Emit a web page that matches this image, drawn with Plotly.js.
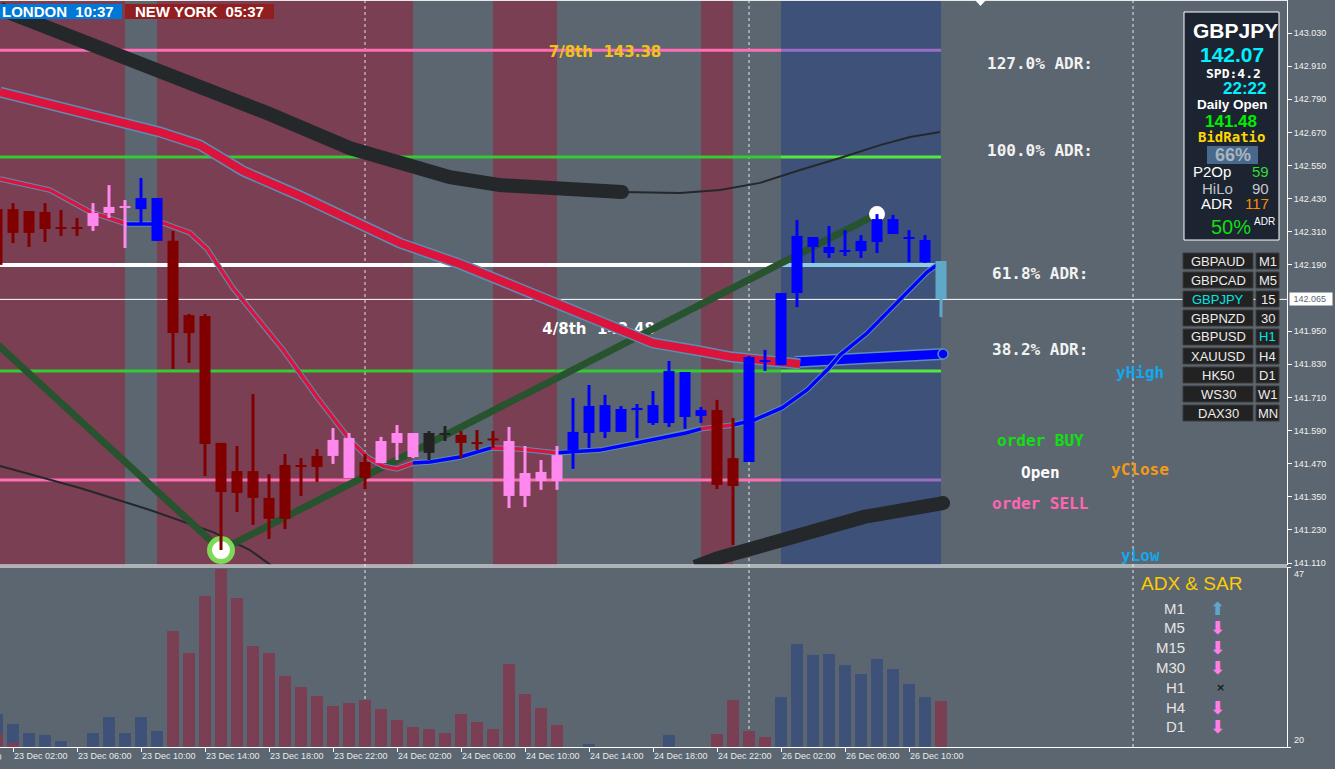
<!DOCTYPE html>
<html><head><meta charset="utf-8">
<script src="https://cdn.plot.ly/plotly-3.0.1.min.js"></script>
<style>html,body{margin:0;padding:0;background:#5c6670;overflow:hidden}#chart{width:1335px;height:769px}</style>
</head><body><div id="chart"></div>
<script>
// ================= DATA =================
// H1 bars, index 0 = 23 Dec 02:00
const barIndex = [-1,0,1,2,3,4,5,6,7,8,9,10,11,12,13,14,15,16,17,18,19,20,21,22,23,24,25,26,27,28,29,30,31,32,33,34,35,36,37,38,39,40,41,42,43,44,45,46,47,48,49,50,51,52,53,54,55,56,57,58];
const openP  = [142.392,142.392,142.385,142.382,142.327,142.327,142.331,142.378,142.396,142.392,142.277,142.277,142.008,142.005,141.545,141.443,141.443,141.346,141.465,141.465,141.498,141.498,141.418,141.476,141.472,141.545,141.494,141.581,141.581,141.574,141.548,141.559,141.353,141.353,141.407,141.407,141.519,141.581,141.585,141.585,141.664,141.617,141.617,141.639,141.643,141.664,141.490,141.476,141.838,141.827,142.088,142.255,142.233,142.237,142.240,142.273,142.302,142.284,142.200,142.204];
const highP  = [142.407,142.414,142.385,142.414,142.389,142.360,142.414,142.479,142.425,142.505,142.432,142.313,142.012,142.012,141.545,141.534,141.722,141.432,141.505,141.490,141.523,141.599,141.581,141.505,141.567,141.610,141.581,141.588,141.606,141.588,141.592,141.588,141.603,141.534,141.483,141.534,141.708,141.755,141.719,141.679,141.686,141.733,141.842,141.802,141.675,141.701,141.635,141.860,141.882,142.088,142.353,142.291,142.331,142.316,142.298,142.374,142.371,142.316,142.298,142.204];
const lowP   = [142.179,142.269,142.255,142.273,142.295,142.295,142.313,142.360,142.251,142.342,142.277,141.813,141.835,141.425,141.157,141.295,141.248,141.197,141.233,141.353,141.404,141.469,141.418,141.378,141.472,141.483,141.490,141.483,141.552,141.490,141.519,141.527,141.309,141.313,141.375,141.375,141.451,141.527,141.563,141.585,141.563,141.610,141.603,141.596,141.617,141.378,141.175,141.476,141.806,141.827,142.037,142.197,142.215,142.222,142.215,142.233,142.302,142.200,142.197,142.001];
const closeP = [142.190,142.306,142.306,142.320,142.320,142.320,142.378,142.400,142.403,142.432,142.432,141.943,141.943,141.541,141.367,141.364,141.346,141.270,141.270,141.458,141.458,141.556,141.563,141.418,141.552,141.581,141.581,141.509,141.574,141.545,141.541,141.556,141.552,141.436,141.440,141.501,141.585,141.679,141.682,141.668,141.672,141.682,141.806,141.802,141.664,141.393,141.389,141.856,141.845,142.088,142.295,142.291,142.255,142.244,142.277,142.356,142.356,142.291,142.280,142.066];
const candleKind = ['dr','dr','dr','dr','dr','dr','pk','pk','pk','bl','bl','dr','dr','dr','dr','dr','dr','dr','dr','dr','dr','pk','pk','dr','pk','pk','pk','bk','bk','dr','dr','dr','pk','pk','pk','pk','bl','bl','bl','bl','bl','bl','bl','bl','bl','dr','dr','bl','bl','bl','bl','bl','bl','bl','bl','bl','bl','bl','bl','lb'];

// x-axis labels
const xTickIdx = [0,4,8,12,16,20,24,28,32,36,40,44,48,52,56];
const xTickLabels = ['23 Dec 02:00','23 Dec 06:00','23 Dec 10:00','23 Dec 14:00','23 Dec 18:00','23 Dec 22:00','24 Dec 02:00','24 Dec 06:00','24 Dec 10:00','24 Dec 14:00','24 Dec 18:00','24 Dec 22:00','26 Dec 02:00','26 Dec 06:00','26 Dec 10:00'];
// price axis labels
const yTickVals = [143.030,142.910,142.790,142.670,142.550,142.430,142.310,142.190,141.950,141.830,141.710,141.590,141.470,141.350,141.230,141.110];
const currentPrice = 142.065;

// horizontal levels
const levelPrice = [142.968, 142.581, 142.190, 141.806, 141.411];

// session bands (bar index)
const sessionStart = [-0.8125, 9, 30, 43];
const sessionEnd   = [7, 25, 34, 45];
const todayStart = 48, todayEnd = 58;
const daySeparator = [22, 46, 70];

// indicator lines
const thickBlackTopX = [-0.81,7.0,15.88,21.06,24.19,27.31,30.44,33.56,36.69,38.06];
const thickBlackTopY = [143.117,142.943,142.740,142.613,142.555,142.508,142.479,142.465,142.458,142.454];
const thinBlackTopX = [38.06,41.69,44.19,46.69,49.19,51.69,54.19,56.06,57.94];
const thinBlackTopY = [142.454,142.450,142.461,142.487,142.534,142.577,142.624,142.653,142.671];
const thickBlackBotX = [42.63,44.06,48.75,53.19,58.13];
const thickBlackBotY = [141.096,141.128,141.204,141.277,141.327];
const thinBlackBotX = [-0.81,4.19,8.56,12.5,14.81,16.19];
const thinBlackBotY = [141.462,141.382,141.302,141.222,141.157,141.099];

const slowMaX = [-0.81,2.31,5.63,9.19,11.69,14.38,17.94,21.06,24.19,27.94,31.69,35.44,40.0,42.94,44.94,49.19];
const slowMaY = [142.816,142.773,142.722,142.671,142.624,142.530,142.440,142.353,142.269,142.193,142.103,142.016,141.907,141.878,141.856,141.831];
const slowMaUpX = [48.88,53.56,58.13];
const slowMaUpY = [141.838,141.853,141.867];

const fastMaX = [-0.81,2.31,4.81,7.13,8.75,9.38,11.06,12.13,13.75,15.0,16.88,19.0,21.06,22.13,23.13,24.0,25.0,26.06,27.94,29.88,31.69,34.0,36.69,38.94,42.06,43.0,45.0,46.31,48.06,49.63,51.0,51.69,53.38,54.81,56.25,57.13,57.94];
const fastMaY = [142.501,142.461,142.382,142.338,142.338,142.342,142.306,142.248,142.106,142.016,141.882,141.711,141.556,141.494,141.461,141.451,141.472,141.476,141.494,141.527,141.523,141.509,141.519,141.545,141.581,141.596,141.610,141.628,141.672,141.737,141.816,141.864,141.943,142.027,142.110,142.164,142.197];
const fastMaBreaks = [-1, 7.13, 8.75, 25, 29.88, 34, 43, 45, 60];
const fastMaTrend  = ['dn','up','dn','up','dn','up','dn','up'];

const zigzagX = [-1, 13, 54];
const zigzagY = [141.903, 141.157, 142.374];

// ADX histogram
const adxUp = [24.95,23.45,22.1,21.8,20.9,null,22.1,24.5,22.1,24.5,22.4,null,null,null,null,null,null,null,null,null,null,null,null,null,null,null,null,null,null,null,null,null,null,null,null,null,null,20.45,null,null,null,null,21.8,null,null,null,null,null,null,27.5,35.45,33.8,33.95,32.3,30.95,33.2,31.7,29.45,27.5,null];
const adxDn = [21.95,20.6,null,null,null,null,null,null,null,null,null,37.4,34.1,42.65,46.7,42.35,35.15,34.1,30.65,29.0,27.65,26.15,26.6,27.05,25.7,24.05,23.0,22.7,22.1,24.95,23.75,22.7,32.45,27.95,25.85,23.3,null,null,null,null,null,null,null,null,null,21.95,27.05,22.4,21.5,null,null,null,null,null,null,null,null,null,null,26.9];

// side panels
const symbols = ['GBPAUD','GBPCAD','GBPJPY','GBPNZD','GBPUSD','XAUUSD','HK50','WS30','DAX30'];
const periods = ['M1','M5','15','30','H1','H4','D1','W1','MN'];
const adxFrames = ['M1','M5','M15','M30','H1','H4','D1'];
const adxSignal = ['up','dn','dn','dn','none','dn','dn'];

// ================= STYLE / LAYOUT =================
const xMin = -0.8125, xMax = 79.625;
const yMin = 141.1028, yMax = 143.1496;
const PW = 1287, PH = 747;
const fx = x => x / PW;
const fy = y => (PH - y) / PH;
const mainBottom = fy(565), adxTop = fy(567);

const SANS = 'Liberation Sans, Arial, sans-serif';
const NARROW = 'Liberation Sans Narrow, Liberation Sans, sans-serif';
const MONO = 'DejaVu Sans Mono, monospace';
const DJV = 'DejaVu Sans, sans-serif';

const COL = {
  bg:'#5c6670', maroon:'#7a3f52', blueBand:'#3e5279',
  dr:'#800000', bl:'#0000ff', pk:'#ff88ee', bk:'#222222', lb:'#5fa8c8',
  red:'#dc143c', blue:'#0000ff', edge:'#5b8db5', black:'#25282b', zz:'#28532f'
};
const levelColorL = ['#ff6eb4','#33cc33','#ffffff','#33cc33','#ff6eb4'];
const levelColorR = ['#9b6cc4','#55e83a','#8ecbea','#55e83a','#9b6cc4'];
const levelWidth = [3,3,4,3,3];

const traces = [];
function line(x, y, color, width) {
  traces.push({type:'scatter', mode:'lines', x:x, y:y, xaxis:'x', yaxis:'y', line:{color:color, width:width}, hoverinfo:'skip'});
}
function cap(x, y, size, color, lc, lw) {
  traces.push({type:'scatter', mode:'markers', x:[x], y:[y], xaxis:'x', yaxis:'y', marker:{size:size, color:color, line:{color:lc||color, width:lw||0}}, hoverinfo:'skip'});
}

// levels
levelPrice.forEach((p,k) => {
  line([xMin, todayStart], [p,p], levelColorL[k], levelWidth[k]);
  line([todayStart, todayEnd], [p,p], levelColorR[k], levelWidth[k]);
});
line([xMin, xMax], [currentPrice, currentPrice], '#ffffff', 1);

// murrey labels (drawn under the averages)
traces.push({type:'scatter', mode:'text', x:[37.0], y:[142.957], text:['<b>7/8th\u00a0\u00a0143.38</b>'], textposition:'middle center', textfont:{family:DJV, size:15, color:'#f2c21a'}, hoverinfo:'skip'});
traces.push({type:'scatter', mode:'text', x:[36.6], y:[141.954], text:['<b>4/8th\u00a0\u00a0142.48</b>'], textposition:'middle center', textfont:{family:DJV, size:15, color:'#ffffff'}, hoverinfo:'skip'});

// black bands
line(thinBlackBotX, thinBlackBotY, COL.black, 2);
line(thinBlackTopX, thinBlackTopY, COL.black, 2);
line(thickBlackTopX, thickBlackTopY, COL.black, 14);
cap(thickBlackTopX[thickBlackTopX.length-1], thickBlackTopY[thickBlackTopY.length-1], 14, COL.black);
line(thickBlackBotX, thickBlackBotY, COL.black, 14);
cap(thickBlackBotX[thickBlackBotX.length-1], thickBlackBotY[thickBlackBotY.length-1], 14, COL.black);

// zigzag
line(zigzagX, zigzagY, COL.zz, 7);

// slow MA
line(slowMaUpX, slowMaUpY, COL.edge, 12);
line(slowMaUpX, slowMaUpY, COL.blue, 9);
cap(slowMaUpX[slowMaUpX.length-1], slowMaUpY[slowMaUpY.length-1], 10, COL.blue, COL.edge, 1.5);
line(slowMaX, slowMaY, COL.edge, 11);
line(slowMaX, slowMaY, COL.red, 8);

// fast MA
line(fastMaX, fastMaY, COL.edge, 5.5);
for (let s = 0; s < fastMaTrend.length; s++) {
  const a = fastMaBreaks[s], b = fastMaBreaks[s+1];
  const xs = [], ys = [];
  fastMaX.forEach((v,k) => { if (v >= a && v <= b) { xs.push(v); ys.push(fastMaY[k]); } });
  line(xs, ys, fastMaTrend[s] === 'up' ? COL.blue : COL.red, 3.5);
}

// zigzag pivots
traces.push({type:'scatter', mode:'markers', x:[zigzagX[1]], y:[zigzagY[1]], xaxis:'x', yaxis:'y', marker:{size:23, color:'#ffffff', line:{color:'#7ed957', width:5}}, hoverinfo:'skip'});
traces.push({type:'scatter', mode:'markers', x:[zigzagX[2]], y:[zigzagY[2]], xaxis:'x', yaxis:'y', marker:{size:16, color:'#ffffff'}, hoverinfo:'skip'});

// candles
const minBody = 0.0072;
['dr','pk','bk','bl','lb'].forEach(kind => {
  const wx = [], wy = [], bx = [], by = [];
  barIndex.forEach((i,k) => {
    if (candleKind[k] !== kind) return;
    wx.push(i, i, null); wy.push(lowP[k], highP[k], null);
    let lo = Math.min(openP[k], closeP[k]), hi = Math.max(openP[k], closeP[k]);
    if (hi - lo < minBody) { const m = (hi + lo) / 2; lo = m - minBody/2; hi = m + minBody/2; }
    bx.push(i, i, null); by.push(lo, hi, null);
  });
  traces.push({type:'scatter', mode:'lines', x:wx, y:wy, xaxis:'x', yaxis:'y', line:{color:COL[kind], width:3}, hoverinfo:'skip', connectgaps:false});
  traces.push({type:'scatter', mode:'lines', x:bx, y:by, xaxis:'x', yaxis:'y', line:{color:COL[kind], width:11}, hoverinfo:'skip', connectgaps:false});
});

// ADX histogram
traces.push({type:'bar', x:barIndex, y:adxUp, xaxis:'x', yaxis:'y2', width:0.8, marker:{color:COL.blueBand, line:{width:0}}, hoverinfo:'skip'});
traces.push({type:'bar', x:barIndex, y:adxDn, xaxis:'x', yaxis:'y2', width:0.8, marker:{color:COL.maroon, line:{width:0}}, hoverinfo:'skip'});

// ================= SHAPES =================
const shapes = [];
sessionStart.forEach((s,k) => shapes.push({type:'rect', xref:'x', yref:'y domain', x0:s, x1:sessionEnd[k], y0:0, y1:1, fillcolor:COL.maroon, line:{width:0}, layer:'below'}));
shapes.push({type:'rect', xref:'x', yref:'y domain', x0:todayStart, x1:todayEnd, y0:0, y1:1, fillcolor:COL.blueBand, line:{width:0}, layer:'below'});
daySeparator.forEach(d => shapes.push({type:'line', xref:'x', yref:'paper', x0:d, x1:d, y0:0, y1:1, line:{color:'rgba(255,255,255,0.85)', width:1, dash:'3px,3px'}, layer:'below'}));
function prect(x0,y0,x1,y1,fill,lc,lw){ shapes.push({type:'rect', xref:'paper', yref:'paper', x0:fx(x0), x1:fx(x1), y0:fy(y1), y1:fy(y0), fillcolor:fill, line:{color:lc||fill, width:lw||0}, layer:'above'}); }
function pline(x0,y0,x1,y1,c){ shapes.push({type:'line', xref:'paper', yref:'paper', x0:fx(x0), x1:fx(x1), y0:fy(y0), y1:fy(y1), line:{color:c, width:1}, layer:'above'}); }
pline(0,0.5,PW,0.5,'#e8e8e8');
pline(0,565,PW,565,'#ffffff');
pline(0,567,PW,567,'#ffffff');
// session clocks
prect(0,4,122,19,'#0078d7');
prect(125,4,274,19,'#911f20');
// info box
prect(1184,12,1279,240,'#1b2430','#ffffff',1);
prect(1207,146,1258,164,'#48688c');
// symbol list
symbols.forEach((s,r) => { const y0 = 253 + 19*r; prect(1183,y0,1253,y0+16,'#222222','#3a3a3a',1); prect(1256,y0,1279,y0+16,'#222222','#3a3a3a',1); });
// shift marker
shapes.push({type:'path', xref:'paper', yref:'paper', path:`M ${fx(975)},${fy(0)} L ${fx(986)},${fy(0)} L ${fx(980.5)},${fy(6)} Z`, fillcolor:'#ffffff', line:{width:0}});

// ================= ANNOTATIONS =================
const ann = [];
function txt(text, x, y, size, color, family, xa) {
  ann.push({xref:'paper', yref:'paper', x:fx(x), y:fy(y), text:text, showarrow:false, xanchor:xa||'center', yanchor:'middle', font:{family:family||SANS, size:size, color:color}});
}
txt('<b>LONDON\u00a0\u00a010:37</b>', 58, 12, 15, '#ffffff');
txt('<b>NEW YORK\u00a0\u00a005:37</b>', 199, 12, 15, '#ffffff');
txt('22 Dec 22:00', 3.5, 757, 9, '#e6e9ec', SANS, 'right');

txt('<b>127.0% ADR:</b>', 1040, 63, 16, '#f2f2f2', MONO);
txt('<b>100.0% ADR:</b>', 1040, 150, 16, '#f2f2f2', MONO);
txt('<b>61.8% ADR:</b>', 1040, 273, 16, '#f2f2f2', MONO);
txt('<b>38.2% ADR:</b>', 1040, 349, 16, '#f2f2f2', MONO);
txt('<b>yHigh</b>', 1140, 372, 16, '#12a8ee', MONO);
txt('<b>yClose</b>', 1140, 469, 16, '#f59a16', MONO);
txt('<b>yLow</b>', 1140, 555, 16, '#12a8ee', MONO);
txt('<b>order BUY</b>', 1040, 440, 16, '#10e010', MONO);
txt('<b>Open</b>', 1040, 472, 16, '#ffffff', MONO);
txt('<b>order SELL</b>', 1040, 504, 16, '#ff66b0', MONO);

// info panel
txt('<b>GBPJPY</b>', 1235, 31, 21, '#ffffff', NARROW);
txt('<b>142.07</b>', 1232, 54, 21, '#00f0ff');
txt('<b>SPD:4.2</b>', 1233, 73, 13, '#ffffff', MONO);
txt('<b>22:22</b>', 1244, 88, 17, '#00f0ff');
txt('<b>Daily Open</b>', 1232, 105, 13.5, '#ffffff');
txt('<b>141.48</b>', 1231, 121, 17, '#00ee00');
txt('<b>BidRatio</b>', 1231, 137, 14, '#ffd700', MONO);
txt('<b>66%</b>', 1232.5, 155, 18, '#aab4be');
txt('P2Op', 1211.5, 172, 15, '#ffffff', NARROW);
txt('59', 1260, 172, 15, '#30dc30', NARROW);
txt('HiLo', 1217, 188, 15, '#c0c4c8', NARROW);
txt('90', 1260, 188, 15, '#c8c8c8', NARROW);
txt('ADR', 1216.5, 204, 15, '#ffffff', NARROW);
txt('117', 1256.5, 204, 15, '#ff8c00', NARROW);
txt('50%', 1231, 227, 20, '#14dc14');
txt('ADR', 1264, 221, 10, '#ffffff');

// symbol list
symbols.forEach((s,r) => {
  const y = 261 + 19*r;
  txt(s, 1218, y, 13, s === 'GBPJPY' ? '#00e6e6' : '#ececec');
  txt(periods[r], 1267.5, y, 13, periods[r] === 'H1' ? '#00e6e6' : '#ececec');
});

// ADX & SAR panel
txt('ADX & SAR', 1191.5, 583, 19, '#ffcc00');
adxFrames.forEach((f,r) => {
  const y = 608 + 19.8*r;
  txt(f, 1187, y, 15, '#e4e4e4', SANS, 'right');
  const sig = adxSignal[r];
  if (sig === 'up') txt('<b>⬆</b>', 1217, y, 18, '#5fa5d2', DJV);
  else if (sig === 'dn') txt('<b>⬇</b>', 1217, y, 18, '#ff7ee8', DJV);
  else txt('<b>×</b>', 1220, y, 11, '#1a1a1a', DJV);
});

// price label + ADX scale
ann.push({xref:'paper', yref:'y', x:1, y:currentPrice, xanchor:'left', yanchor:'middle', xshift:2, text:'\u00a0142.065\u00a0\u00a0', showarrow:false, bgcolor:'#ffffff', borderpad:1, font:{family:SANS, size:9, color:'#5a6570'}});
ann.push({xref:'paper', yref:'y2', x:1, y:47, xanchor:'left', yanchor:'top', xshift:5, text:'47', showarrow:false, font:{family:SANS, size:9, color:'#f0f0f0'}});
ann.push({xref:'paper', yref:'y2', x:1, y:20, xanchor:'left', yanchor:'bottom', xshift:5, text:'20', showarrow:false, font:{family:SANS, size:9, color:'#f0f0f0'}});

const layout = {
  width:1335, height:769,
  margin:{l:0, r:48, t:0, b:22, pad:0},
  paper_bgcolor:COL.bg, plot_bgcolor:COL.bg,
  showlegend:false, hovermode:false,
  barmode:'overlay', bargap:0,
  font:{family:SANS, color:'#e8e8e8', size:9},
  xaxis:{domain:[0,1], anchor:'y2', range:[xMin,xMax], showgrid:false, zeroline:false, showline:true, linecolor:'#ffffff', linewidth:1,
    ticks:'outside', ticklen:4, tickcolor:'#ffffff', tickmode:'array', tickvals:xTickIdx, ticktext:xTickLabels,
    ticklabelposition:'outside right', tickfont:{family:SANS, size:9, color:'#e6e9ec'}, fixedrange:true},
  yaxis:{domain:[mainBottom,1], anchor:'x', side:'right', range:[yMin,yMax], showgrid:false, zeroline:false, showline:true, linecolor:'#ffffff', linewidth:1,
    ticks:'outside', ticklen:4, tickcolor:'#ffffff', tickmode:'array', tickvals:yTickVals, ticktext:yTickVals.map(v => v.toFixed(3)),
    tickfont:{family:SANS, size:9, color:'#f2f2f2'}, fixedrange:true},
  yaxis2:{domain:[0,adxTop], anchor:'x', side:'right', range:[20,47], showgrid:false, zeroline:false, showline:true, linecolor:'#ffffff', linewidth:1,
    ticks:'outside', ticklen:3, tickcolor:'#ffffff', tickvals:[20,47], showticklabels:false, fixedrange:true},
  shapes:shapes, annotations:ann
};
Plotly.newPlot('chart', traces, layout, {staticPlot:true, displayModeBar:false});
</script></body></html>
